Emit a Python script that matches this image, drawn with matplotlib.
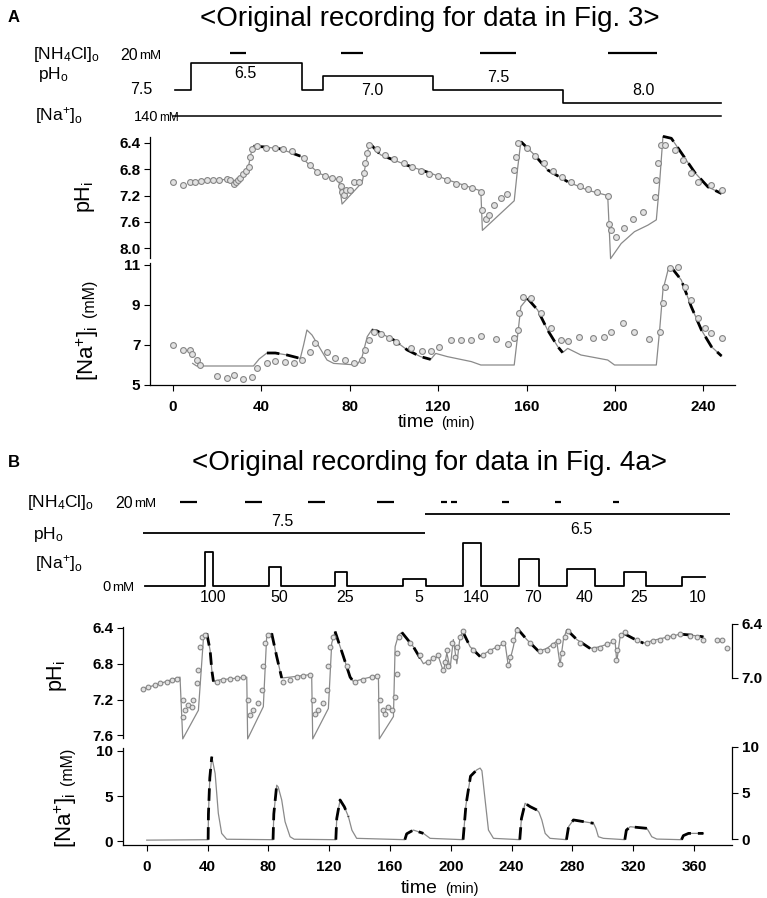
import numpy as np
import matplotlib
matplotlib.use('Agg')
from matplotlib import pyplot as plt

plt.rcParams['font.family'] = ['Liberation Sans', 'DejaVu Sans']
plt.rcParams['mathtext.fontset'] = 'custom'
plt.rcParams['mathtext.rm'] = 'Liberation Sans'
plt.rcParams['mathtext.it'] = 'Liberation Sans:italic'
plt.rcParams['mathtext.bf'] = 'Liberation Sans:bold'

# ---------------- panel A : protocol ----------------
a_nh4_on = [25.9, 75.8, 138.8, 196.9]
a_nh4_off = [33.1, 86.2, 155.2, 219.1]
a_pho_t = [0.9, 8.2, 58.5, 68.0, 117.5, 176.5, 247.8]
a_pho = [7.5, 6.5, 7.5, 7.0, 7.5, 8.0, 8.0]
a_pho_labels = ['6.5', '7.0', '7.5', '8.0']
a_nao_t = [0.0, 248.0]

# ---------------- panel A : pHi ----------------
a_ph_t = [7.7, 15.3, 22.1, 25.9, 27.4, 28.9, 30.4, 31.9, 34.2, 35.7,
          36.4, 41.0, 48.5, 57.6, 62.2, 66.0, 69.7, 72.7, 75.0, 76.5,
          85.6, 87.9, 88.6, 89.4, 93.9, 99.9, 106.0, 112.0, 116.6, 124.1,
          133.2, 139.3, 140.0, 154.4, 155.9, 157.4, 163.5, 169.5, 178.6, 187.7,
          196.7, 198.0, 202.8, 208.8, 214.9, 218.7, 220.2, 221.7, 225.5, 230.0,
          236.1, 242.1, 248.2]
a_ph = [7.00, 6.97, 6.96, 6.95, 7.01, 7.00, 6.93, 6.86, 6.75, 6.50,
        6.45, 6.46, 6.49, 6.60, 6.75, 6.86, 6.91, 6.94, 6.96, 7.33,
        7.00, 6.60, 6.43, 6.42, 6.58, 6.66, 6.74, 6.81, 6.86, 6.96,
        7.06, 7.13, 7.73, 7.28, 6.80, 6.38, 6.58, 6.81, 6.99, 7.12,
        7.20, 8.16, 7.93, 7.75, 7.65, 7.57, 7.00, 6.30, 6.33, 6.55,
        6.85, 7.07, 7.17]
a_ph_dash = [(36.4, 57.6), (89.4, 116.6), (157.4, 178.6), (221.7, 248.2)]
a_ph_circ_t = [0.2, 4.4, 7.7, 10.0, 12.5, 15.3, 18.3, 21.0, 24.3, 26.0,
               27.4, 28.5, 29.5, 30.4, 31.9, 33.0, 34.2, 35.0, 35.7, 38.0,
               42.0, 46.0, 50.0, 54.0, 59.1, 62.2, 65.2, 69.0, 72.0, 75.0,
               75.8, 76.5, 77.3, 78.5, 80.0, 81.8, 84.1, 86.3, 87.1, 87.9,
               88.6, 92.4, 96.0, 100.0, 104.5, 108.0, 112.0, 116.0, 120.0, 124.0,
               128.0, 131.5, 135.5, 139.3, 140.0, 141.5, 143.0, 145.3, 148.3, 151.1,
               154.4, 155.2, 155.9, 160.4, 164.0, 168.0, 172.0, 176.0, 180.0, 184.0,
               188.0, 192.0, 196.7, 197.5, 198.3, 200.5, 204.3, 208.1, 212.6, 217.9,
               218.7, 219.4, 220.9, 222.5, 227.0, 230.8, 234.5, 237.6, 243.6, 248.2]
a_ph_circ = [7.00, 7.04, 7.00, 6.99, 6.98, 6.97, 6.97, 6.96, 6.95, 6.96,
             7.02, 6.99, 6.97, 6.93, 6.87, 6.82, 6.76, 6.62, 6.50, 6.45,
             6.47, 6.48, 6.50, 6.53, 6.63, 6.74, 6.84, 6.90, 6.94, 6.95,
             7.06, 7.14, 7.19, 7.11, 7.12, 7.00, 6.99, 6.86, 6.71, 6.56,
             6.43, 6.50, 6.58, 6.64, 6.70, 6.76, 6.82, 6.87, 6.91, 6.96,
             7.02, 7.06, 7.09, 7.14, 7.42, 7.55, 7.49, 7.35, 7.24, 7.18,
             6.81, 6.61, 6.40, 6.47, 6.60, 6.70, 6.82, 6.92, 7.00, 7.06,
             7.10, 7.14, 7.20, 7.63, 7.73, 7.83, 7.70, 7.56, 7.45, 7.22,
             6.96, 6.71, 6.43, 6.43, 6.51, 6.66, 6.85, 6.99, 7.04, 7.11]

# ---------------- panel A : [Na+]i ----------------
a_na_t = [8.9, 10.7, 36.4, 39.0, 42.5, 46.3, 51.6, 57.6, 59.1, 60.6,
          62.9, 65.2, 69.7, 72.7, 83.3, 85.6, 87.9, 89.9, 92.4, 96.9,
          99.9, 103.0, 106.0, 112.0, 116.6, 118.9, 124.1, 135.0, 139.3, 154.4,
          155.9, 157.4, 160.4, 165.0, 169.5, 174.1, 176.3, 178.6, 184.6, 196.7,
          199.8, 218.7, 220.2, 221.7, 224.0, 225.5, 230.0, 234.5, 239.1, 243.6,
          248.2]
a_na = [6.08, 5.95, 5.95, 6.30, 6.60, 6.60, 6.50, 6.33, 7.00, 7.75,
        7.50, 7.08, 6.25, 6.08, 6.00, 6.42, 7.42, 7.75, 7.70, 7.42,
        7.25, 7.00, 6.75, 6.42, 6.28, 6.58, 6.42, 6.17, 6.00, 6.00,
        7.42, 8.92, 9.33, 8.75, 7.75, 6.92, 6.62, 6.83, 6.50, 6.25,
        6.00, 6.00, 7.75, 9.75, 10.75, 10.88, 10.25, 8.92, 7.75, 6.92,
        6.45]
a_na_dash = [(42.5, 57.6), (89.9, 116.6), (160.4, 176.3), (225.5, 248.2)]
a_na_circ_t = [0.2, 4.4, 7.7, 8.5, 10.7, 12.2, 19.8, 24.3, 27.4, 31.9,
               35.7, 38.0, 42.5, 46.3, 50.8, 54.6, 58.4, 62.2, 64.4, 69.7,
               73.5, 78.0, 81.8, 85.6, 87.1, 88.6, 90.9, 93.9, 97.7, 100.7,
               107.5, 112.8, 116.6, 120.4, 125.7, 130.2, 134.7, 139.3, 146.1, 151.4,
               154.4, 155.9, 156.7, 158.2, 162.0, 166.5, 171.0, 175.6, 178.6, 183.9,
               189.9, 195.2, 198.3, 203.5, 208.8, 215.6, 220.2, 221.7, 222.5, 224.7,
               228.5, 231.5, 234.5, 237.6, 240.6, 243.6, 248.2]
a_na_circ = [7.00, 6.75, 6.75, 6.55, 6.25, 6.00, 5.45, 5.33, 5.50, 5.28,
             5.38, 5.83, 6.08, 6.20, 6.17, 6.08, 6.25, 6.67, 7.08, 6.67,
             6.37, 6.25, 6.08, 6.25, 6.75, 7.25, 7.67, 7.55, 7.33, 7.17,
             6.83, 6.72, 6.72, 6.92, 7.25, 7.25, 7.25, 7.45, 7.28, 7.05,
             7.33, 7.75, 8.58, 9.42, 9.33, 8.58, 7.83, 7.25, 7.22, 7.38,
             7.33, 7.42, 7.67, 8.08, 7.67, 7.28, 7.67, 9.08, 9.92, 10.83,
             10.92, 9.92, 9.25, 8.33, 7.83, 7.58, 7.33]

# ---------------- panel B : protocol ----------------
b_nh4_on = [21.9, 64.7, 106.1, 151.5, 193.6, 200.2, 233.8, 268.6, 306.8]
b_nh4_off = [33.1, 75.9, 117.3, 162.7, 197.6, 204.2, 238.4, 272.5, 310.7]
b_pho_start = [-2.4, 183.0]
b_pho_end = [183.0, 384.0]
b_pho = [7.5, 6.5]
b_nao_start = -1.1
b_nao_on = [38.4, 80.5, 123.9, 168.6, 208.1, 245.0, 276.5, 314.0, 352.2]
b_nao_off = [43.6, 88.4, 131.8, 183.8, 220.0, 258.1, 294.9, 328.5, 367.3]
b_nao_height = [34, 19, 14, 7, 43, 27, 17, 14, 9]   # drawn step height (a.u.)
b_nao_conc = ['100', '50', '25', '5', '140', '70', '40', '25', '10']

# ---------------- panel B : pHi ----------------
b_ph_t = [-2.2, 21.9, 23.7, 34.0, 37.3, 39.5, 41.7, 42.8, 43.9, 48.2,
          65.8, 66.4, 76.7, 78.9, 82.2, 85.5, 88.8, 94.3, 108.5, 109.2,
          119.5, 121.7, 123.9, 129.4, 133.8, 136.0, 144.7, 152.4, 153.0, 162.3,
          163.4, 165.6, 167.8, 175.4, 182.0, 184.2, 191.9, 195.2, 197.4, 199.6,
          201.7, 204.0, 206.1, 207.9, 212.7, 219.3, 225.9, 235.7, 237.9, 241.2,
          243.4, 250.0, 257.7, 263.1, 269.7, 271.9, 274.1, 276.3, 282.9, 291.7,
          298.2, 308.1, 309.2, 311.4, 313.6, 320.2, 326.7, 335.5, 350.9, 358.0,
          366.2]
b_ph = [7.08, 6.95, 7.64, 7.32, 6.52, 6.46, 6.65, 6.87, 7.00, 6.98,
        6.95, 7.64, 7.28, 6.50, 6.46, 6.72, 6.96, 6.95, 6.92, 7.64,
        7.30, 6.57, 6.44, 6.72, 6.95, 7.00, 6.96, 6.93, 7.64, 7.39,
        6.61, 6.48, 6.45, 6.61, 6.80, 6.78, 6.72, 6.89, 6.68, 6.85,
        6.53, 6.80, 6.50, 6.44, 6.61, 6.72, 6.65, 6.57, 6.83, 6.61,
        6.40, 6.53, 6.66, 6.63, 6.55, 6.81, 6.53, 6.42, 6.53, 6.63,
        6.61, 6.55, 6.78, 6.50, 6.46, 6.52, 6.57, 6.53, 6.47, 6.48,
        6.50]
b_ph_dash = [(39.5, 43.9), (82.2, 88.8), (123.9, 136.0), (167.8, 182.0), (207.9, 219.3),
             (243.4, 257.7), (276.3, 291.7), (313.6, 326.7), (350.9, 366.2)]
b_ph_circ_t = [-2.2, 1.1, 5.5, 8.8, 13.2, 16.4, 19.7, 23.7, 24.1, 25.2,
               27.4, 29.6, 30.7, 32.9, 34.0, 35.1, 36.2, 38.4, 46.0, 50.4,
               54.8, 59.2, 63.6, 66.9, 68.0, 70.2, 73.5, 75.7, 76.7, 77.8,
               80.0, 89.9, 94.3, 98.7, 103.1, 107.4, 109.6, 110.7, 112.9, 116.2,
               118.4, 119.5, 120.6, 122.8, 131.6, 137.0, 142.5, 148.0, 151.3, 153.5,
               155.7, 156.8, 159.0, 161.2, 163.4, 164.5, 164.9, 166.2, 173.2, 179.8,
               185.3, 188.6, 191.9, 195.2, 196.3, 197.4, 198.5, 200.7, 202.8, 204.4,
               206.1, 208.3, 214.9, 221.5, 225.9, 230.3, 234.6, 237.9, 239.0, 241.2,
               243.4, 252.2, 258.8, 263.1, 267.5, 270.8, 271.9, 273.0, 275.2, 277.4,
               285.1, 293.9, 298.2, 302.6, 307.0, 308.8, 309.6, 311.8, 314.7, 322.4,
               329.0, 333.3, 337.7, 342.1, 346.5, 350.9, 357.4, 361.8, 366.2, 375.0,
               378.3, 381.6]
b_ph_circ = [7.08, 7.065, 7.04, 7.02, 7.00, 6.98, 6.97, 7.21, 7.39, 7.32,
             7.26, 7.28, 7.21, 7.02, 6.87, 6.61, 6.50, 6.48, 7.00, 6.98,
             6.97, 6.96, 6.95, 7.21, 7.37, 7.32, 7.24, 7.09, 6.83, 6.57,
             6.48, 7.00, 6.98, 6.95, 6.94, 6.93, 7.21, 7.36, 7.32, 7.24,
             7.09, 6.83, 6.61, 6.50, 6.83, 7.00, 6.98, 6.95, 6.94, 7.21,
             7.32, 7.36, 7.28, 7.32, 7.17, 6.91, 6.68, 6.50, 6.57, 6.70,
             6.78, 6.74, 6.70, 6.87, 6.78, 6.65, 6.83, 6.57, 6.72, 6.61,
             6.50, 6.44, 6.65, 6.70, 6.66, 6.61, 6.57, 6.81, 6.72, 6.53,
             6.42, 6.57, 6.66, 6.65, 6.59, 6.55, 6.80, 6.68, 6.50, 6.44,
             6.57, 6.64, 6.62, 6.58, 6.55, 6.76, 6.65, 6.48, 6.45, 6.53,
             6.57, 6.55, 6.53, 6.50, 6.49, 6.47, 6.49, 6.50, 6.53, 6.53,
             6.53, 6.63]

# ---------------- panel B : [Na+]i ----------------
b_na_t = [0.0, 40.4, 40.6, 41.5, 42.8, 45.0, 47.1, 49.3, 52.6, 83.1,
          83.6, 85.5, 86.5, 88.8, 91.0, 94.3, 97.0, 124.4, 125.0, 127.2,
          130.0, 132.7, 135.0, 138.1, 169.8, 171.0, 175.4, 182.0, 186.4, 208.1,
          210.0, 213.0, 217.1, 219.3, 220.5, 222.6, 224.8, 228.1, 245.4, 246.5,
          248.9, 252.2, 256.6, 258.0, 259.9, 262.1, 265.3, 276.1, 277.5, 280.7,
          293.9, 295.5, 297.1, 300.4, 314.5, 315.5, 318.0, 329.0, 330.5, 332.2,
          335.5, 351.8, 353.0, 356.4, 366.2]
b_na = [0.10, 0.15, 3.0, 7.0, 9.37, 7.5, 3.08, 0.85, 0.2, 0.15,
        3.0, 6.2, 6.0, 4.56, 2.15, 0.48, 0.2, 0.15, 2.5, 4.56,
        3.8, 2.7, 1.2, 0.3, 0.15, 0.8, 1.22, 0.85, 0.3, 0.15,
        4.0, 7.2, 7.9, 8.1, 7.8, 4.56, 1.22, 0.3, 0.15, 2.5,
        4.19, 3.82, 3.45, 3.2, 2.34, 0.85, 0.3, 0.15, 1.6, 2.34,
        1.97, 1.4, 0.48, 0.3, 0.15, 1.2, 1.59, 1.41, 1.0, 0.48,
        0.22, 0.15, 0.6, 0.85, 0.85]
b_na_dash = [(40.4, 42.8), (83.1, 86.5), (124.4, 132.7), (169.8, 182.0), (208.1, 219.3),
             (245.4, 256.6), (276.1, 293.9), (314.5, 329.0), (351.8, 366.2)]


# ---------------- drawing ----------------
W, H = 767.0, 898.0
fig = plt.figure(figsize=(W / 100, H / 100), dpi=100)
GRAY = '#8a8a8a'


def px_axes(l, t, r, b):
    ax = fig.add_axes([l / W, 1 - b / H, (r - l) / W, (b - t) / H])
    ax.patch.set_alpha(0)
    return ax


def px_text(x, y, s, **kw):
    kw.setdefault('va', 'center')
    fig.text(x / W, 1 - y / H, s, **kw)


def proto_axes(l, t, r, b, xlim):
    ax = px_axes(l, t, r, b)
    ax.set_xlim(*xlim)
    ax.axis('off')
    return ax


def style_axes(ax, bottom=False, side='left'):
    for s in ['top', 'right', 'left', 'bottom']:
        ax.spines[s].set_visible(False)
    ax.spines[side].set_visible(True)
    ax.spines[side].set_linewidth(0.9)
    if bottom:
        ax.spines['bottom'].set_visible(True)
        ax.spines['bottom'].set_linewidth(0.9)
    else:
        ax.set_xticks([])
    ax.yaxis.set_ticks_position(side)
    ax.tick_params(direction='out', length=4, width=0.8, labelsize=11, pad=3)
    ax.tick_params(axis='x', pad=7)


def bold_ticks(ax):
    for lbl in ax.get_xticklabels() + ax.get_yticklabels():
        lbl.set_fontweight('bold')


def draw_trace(ax, t, y, dash_spans, ct=None, cy=None, ms=4.0):
    t = np.asarray(t)
    y = np.asarray(y)
    ax.plot(t, y, color=GRAY, lw=0.9, zorder=2, clip_on=False)
    for a, b in dash_spans:
        m = (t >= a) & (t <= b)
        ax.plot(t[m], y[m], color='black', lw=2.0, dashes=(4.5, 2.5), zorder=3, clip_on=False)
    if ct is not None:
        ax.plot(ct, cy, ls='none', marker='o', ms=ms, mfc='#e2e2e2', mec='#858585',
                mew=0.8, zorder=4, clip_on=False)


# ===== panel A =====
xa = (-10.4, 254.3)
px_text(14, 17, 'A', fontsize=12, fontweight='bold', ha='center')
px_text(430, 19, '<Original recording for data in Fig. 3>', fontsize=20, ha='center')

px_text(33, 54, r'[NH$_\mathregular{4}$Cl]$_\mathregular{o}$', fontsize=12.5)
px_text(120, 55, '20', fontsize=11.5)
px_text(139, 56, 'mM', fontsize=9.5)
px_text(38, 75, r'pH$_\mathregular{o}$', fontsize=12.5)
px_text(130, 90, '7.5', fontsize=11.5)
px_text(35, 116, r'[Na$^\mathregular{+}$]$_\mathregular{o}$', fontsize=12.5)
px_text(134, 117, '140', fontsize=10.5)
px_text(159, 118, 'mM', fontsize=8.5)

ap1 = proto_axes(150, 48, 735, 58, xa)
ap1.set_ylim(0, 1)
ap1.hlines([0.5] * len(a_nh4_on), a_nh4_on, a_nh4_off, color='black', lw=1.6)

ap2 = proto_axes(150, 58, 735, 108, xa)
ap2.set_ylim(8.1875, 6.3125)
ap2.plot(a_pho_t, a_pho, drawstyle='steps-post', color='black', lw=1.2)
for s, tx, ty in zip(a_pho_labels, [32.7, 90.3, 147.0, 212.8], [6.88, 7.54, 7.04, 7.54]):
    ap2.text(tx, ty, s, fontsize=11.5, ha='center', va='center')

ap3 = proto_axes(150, 111, 735, 121, xa)
ap3.set_ylim(139, 141)
ap3.plot(a_nao_t, [140, 140], color='black', lw=1.1)

ax1 = px_axes(150, 137, 735, 258)
ax1.set_xlim(*xa)
ax1.set_ylim(8.15, 6.31)
style_axes(ax1)
ax1.set_yticks([6.4, 6.8, 7.2, 7.6, 8.0])
ax1.set_yticklabels(['6.4', '6.8', '7.2', '7.6', '8.0'])
draw_trace(ax1, a_ph_t, a_ph, a_ph_dash, a_ph_circ_t, a_ph_circ, ms=4.2)
bold_ticks(ax1)

ax2 = px_axes(150, 263, 735, 385)
ax2.set_xlim(*xa)
ax2.set_ylim(5, 11.1)
style_axes(ax2, bottom=True)
ax2.set_yticks([5, 7, 9, 11])
ax2.set_xticks(np.arange(0, 241, 40))
draw_trace(ax2, a_na_t, a_na, a_na_dash, a_na_circ_t, a_na_circ, ms=4.2)
bold_ticks(ax2)

fig.text(85 / W, 1 - 197 / H, r'pH$_\mathregular{i}$', fontsize=15.5, rotation=90,
         ha='center', va='center')
fig.text(94 / W, 1 - 381 / H, r'[Na$^\mathregular{+}$]$_\mathregular{i}$', fontsize=16,
         rotation=90, rotation_mode='anchor', ha='left', va='baseline')
fig.text(94 / W, 1 - 317 / H, '(mM)', fontsize=11.5, rotation=90,
         rotation_mode='anchor', ha='left', va='baseline')
fig.text(398 / W, 1 - 427 / H, 'time', fontsize=14, va='baseline')
fig.text(441 / W, 1 - 427 / H, '(min)', fontsize=10.5, va='baseline')

# ===== panel B =====
xb = (-15.6, 385.0)
px_text(14, 463, 'B', fontsize=12, fontweight='bold', ha='center')
px_text(430, 463, '<Original recording for data in Fig. 4a>', fontsize=20, ha='center')

px_text(27, 503, r'[NH$_\mathregular{4}$Cl]$_\mathregular{o}$', fontsize=12.5)
px_text(115, 503, '20', fontsize=11.5)
px_text(134, 504, 'mM', fontsize=9.5)
px_text(33, 534, r'pH$_\mathregular{o}$', fontsize=12.5)
px_text(35, 563, r'[Na$^\mathregular{+}$]$_\mathregular{o}$', fontsize=12.5)
px_text(102, 587, '0', fontsize=10.5)
px_text(112, 588, 'mM', fontsize=9.5)

bp1 = proto_axes(123, 497, 732, 507, xb)
bp1.set_ylim(0, 1)
bp1.hlines([0.5] * len(b_nh4_on), b_nh4_on, b_nh4_off, color='black', lw=1.6)

bp2 = proto_axes(123, 505, 732, 545, xb)
bp2.set_ylim(8.13, 6.026)
bp2.hlines(b_pho, b_pho_start, b_pho_end, color='black', lw=1.3)
bp2.text(89.0, 6.92, '7.5', fontsize=11.5, ha='center', va='center')
bp2.text(285.7, 7.34, '6.5', fontsize=11.5, ha='center', va='center')

bp3 = proto_axes(123, 536, 732, 592, xb)
bp3.set_ylim(-6, 50)
st, sv = [b_nao_start], [0]
for i, (on, off, h) in enumerate(zip(b_nao_on, b_nao_off, b_nao_height)):
    st += [on, on, off]
    sv += [0, h, h]
    if i < len(b_nao_on) - 1:
        st.append(off)
        sv.append(0)
bp3.plot(st, sv, color='black', lw=1.3)
for on, off, s in zip(b_nao_on, b_nao_off, b_nao_conc):
    bp3.text((on + off) / 2 + 2.5, -12, s, fontsize=11.5, ha='center', va='center')

bx1 = px_axes(123, 627, 732, 738)
bx1.set_xlim(*xb)
bx1.set_ylim(7.63, 6.39)
style_axes(bx1)
bx1.set_yticks([6.4, 6.8, 7.2, 7.6])
bx1.set_yticklabels(['6.4', '6.8', '7.2', '7.6'])
draw_trace(bx1, b_ph_t, b_ph, b_ph_dash, b_ph_circ_t, b_ph_circ, ms=3.4)
bold_ticks(bx1)

bx1r = px_axes(123, 620, 732, 738)
bx1r.set_xlim(*xb)
bx1r.set_ylim(7.667, 6.356)
style_axes(bx1r, side='right')
bx1r.spines['right'].set_bounds(6.4, 7.0)
bx1r.set_yticks([6.4, 7.0])
bx1r.set_yticklabels(['6.4', '7.0'])
bold_ticks(bx1r)

bx2 = px_axes(123, 748, 732, 845)
bx2.set_xlim(*xb)
bx2.set_ylim(-0.44, 10.33)
style_axes(bx2, bottom=True)
bx2.set_yticks([0, 5, 10])
bx2.set_xticks(np.arange(0, 361, 40))
draw_trace(bx2, b_na_t, b_na, b_na_dash)
bold_ticks(bx2)

bx2r = px_axes(123, 743, 732, 845)
bx2r.set_xlim(*xb)
bx2r.set_ylim(-0.62, 10.4)
style_axes(bx2r, side='right')
bx2r.spines['right'].set_bounds(0, 10)
bx2r.set_yticks([0, 5, 10])
bold_ticks(bx2r)

fig.text(57 / W, 1 - 676 / H, r'pH$_\mathregular{i}$', fontsize=15.5, rotation=90,
         ha='center', va='center')
fig.text(72 / W, 1 - 848 / H, r'[Na$^\mathregular{+}$]$_\mathregular{i}$', fontsize=16,
         rotation=90, rotation_mode='anchor', ha='left', va='baseline')
fig.text(72 / W, 1 - 785 / H, '(mM)', fontsize=11.5, rotation=90,
         rotation_mode='anchor', ha='left', va='baseline')
fig.text(401 / W, 1 - 893 / H, 'time', fontsize=14, va='baseline')
fig.text(445 / W, 1 - 893 / H, '(min)', fontsize=10.5, va='baseline')

fig.savefig('out.png', dpi=100)
